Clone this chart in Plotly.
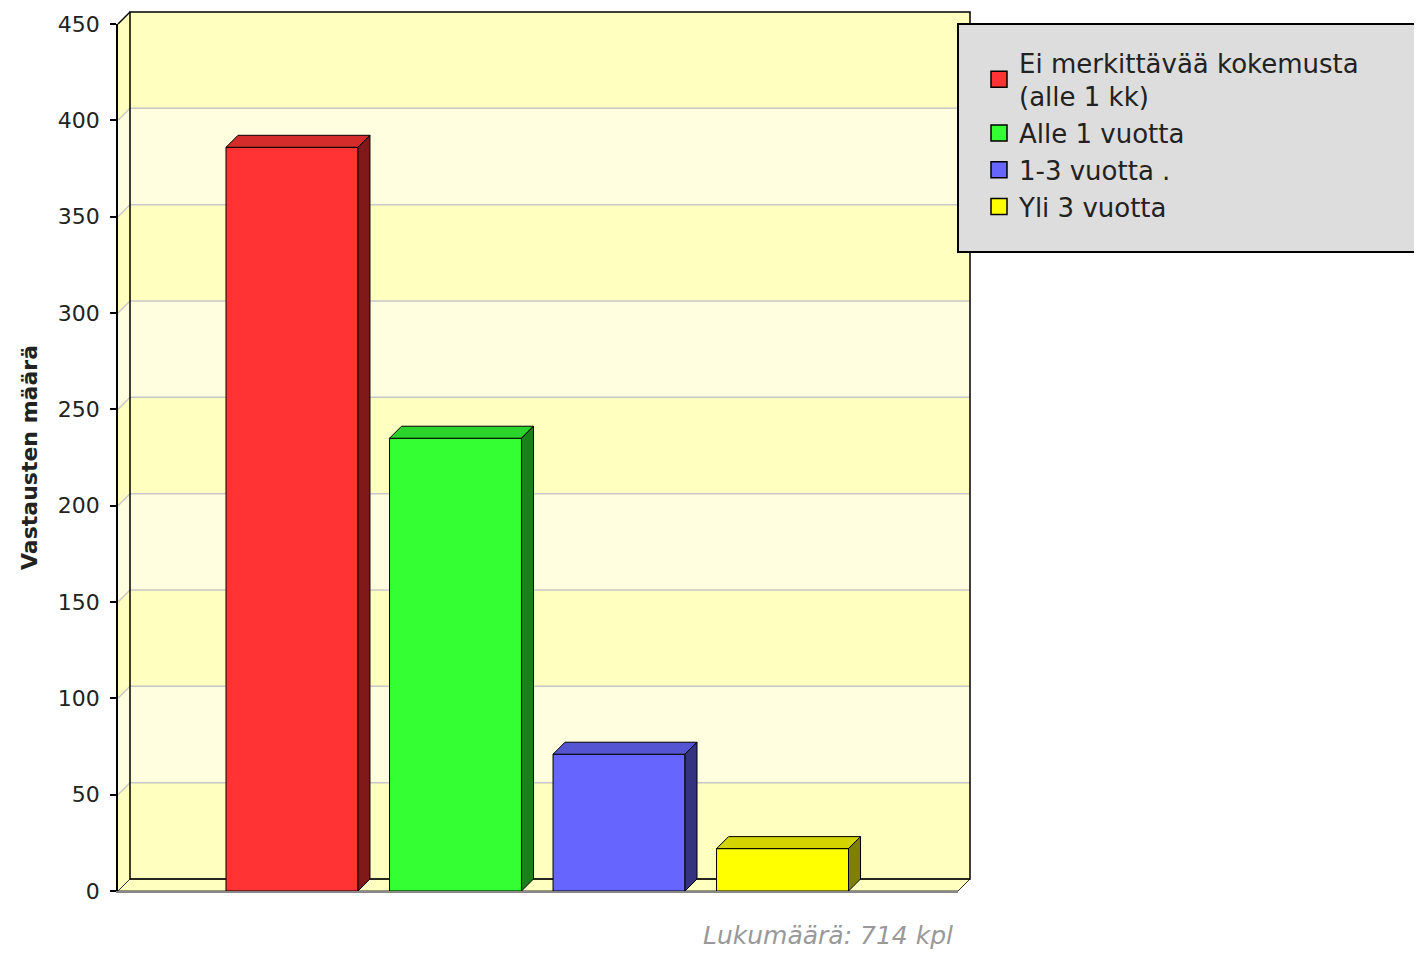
import plotly.graph_objects as go

# data
categories = ["Ei merkittävää kokemusta<br>(alle 1 kk)", "Alle 1 vuotta", "1-3 vuotta .", "Yli 3 vuotta"]
values = [386, 235, 71, 22]
front_colors = ["#FF3333", "#33FF33", "#6666FF", "#FFFF00"]
top_colors = ["#D42B2B", "#2BD42B", "#5555D4", "#D4D400"]
side_colors = ["#801A1A", "#1A801A", "#333380", "#808000"]
y_ticks = [0, 50, 100, 150, 200, 250, 300, 350, 400, 450]
total_label = "Lukumäärä: 714 kpl"

# layout geometry in page pixels; the page body adds an 8px margin,
# so the figure is sized to fit the 1422x958 window without overflow
PAGE_OFF = 8
W, H = 1422 - 2 * PAGE_OFF, 958 - 2 * PAGE_OFF
PLOT_LEFT, PLOT_RIGHT, PLOT_TOP, PLOT_BOTTOM = 118, 958, 24, 891
PLOT_W, PLOT_H = PLOT_RIGHT - PLOT_LEFT, PLOT_BOTTOM - PLOT_TOP
L = PLOT_LEFT - PAGE_OFF
T = PLOT_TOP - PAGE_OFF
R = W - L - PLOT_W
B = H - T - PLOT_H
DEPTH = 12  # fake 3d depth in px
X_RANGE = [-1.064, 4.073]
Y_MAX = 450
BAR_W = 0.807

BAND_DARK = "#FFFFC0"
BAND_LIGHT = "#FFFFE0"
GRID = "#C8C8C8"


def px_x(x):
    return (x - PLOT_LEFT) / PLOT_W


def px_y(y):
    return (PLOT_BOTTOM - y) / PLOT_H


# depth offsets in data units and in paper units
dx = DEPTH * (X_RANGE[1] - X_RANGE[0]) / PLOT_W
dy = DEPTH * Y_MAX / PLOT_H
ox = DEPTH / PLOT_W
oy = DEPTH / PLOT_H

fig = go.Figure()

for i, (name, v) in enumerate(zip(categories, values)):
    x0, x1 = i - BAR_W / 2, i + BAR_W / 2
    fig.add_trace(go.Bar(
        x=[i], y=[v], width=BAR_W, name=name, showlegend=False,
        marker=dict(color=front_colors[i], line=dict(color="black", width=1)),
        hovertemplate=f"{name}: %{{y}}<extra></extra>",
    ))
    # top face
    fig.add_trace(go.Scatter(
        x=[x0, x0 + dx, x1 + dx, x1, x0], y=[v, v + dy, v + dy, v, v],
        mode="lines", fill="toself", fillcolor=top_colors[i],
        line=dict(color="black", width=1), showlegend=False, hoverinfo="skip",
    ))
    # side face
    fig.add_trace(go.Scatter(
        x=[x1, x1 + dx, x1 + dx, x1, x1], y=[0, dy, v + dy, v, 0],
        mode="lines", fill="toself", fillcolor=side_colors[i],
        line=dict(color="black", width=1), showlegend=False, hoverinfo="skip",
    ))

# legend entries with bigger square swatches
for i, name in enumerate(categories):
    fig.add_trace(go.Scatter(
        x=[None], y=[None], mode="markers", name=name,
        marker=dict(symbol="square", size=16, color=front_colors[i],
                    line=dict(color="black", width=1.5)),
    ))

shapes = []
n_bands = len(y_ticks) - 1
for k in range(n_bands):
    y0 = y_ticks[k] / Y_MAX
    y1 = y_ticks[k + 1] / Y_MAX
    col = BAND_DARK if k % 2 == 0 else BAND_LIGHT
    # back wall band
    shapes.append(dict(type="rect", xref="paper", yref="paper", layer="below",
                       x0=ox, x1=1 + ox, y0=y0 + oy, y1=y1 + oy,
                       fillcolor=col, line=dict(width=0)))
    # left wall band
    shapes.append(dict(type="path", xref="paper", yref="paper", layer="below",
                       path=f"M 0,{y0} L {ox},{y0 + oy} L {ox},{y1 + oy} L 0,{y1} Z",
                       fillcolor=col, line=dict(width=0)))

# floor
shapes.append(dict(type="path", xref="paper", yref="paper", layer="below",
                   path=f"M 0,0 L 1,0 L {1 + ox},{oy} L {ox},{oy} Z",
                   fillcolor=BAND_DARK, line=dict(color="#333", width=1)))

# gridlines on back wall + left wall
for t in y_ticks[1:-1]:
    yy = t / Y_MAX
    shapes.append(dict(type="line", xref="paper", yref="paper", layer="below",
                       x0=ox, x1=1 + ox, y0=yy + oy, y1=yy + oy,
                       line=dict(color=GRID, width=1.5)))
    shapes.append(dict(type="line", xref="paper", yref="paper", layer="below",
                       x0=0, x1=ox, y0=yy, y1=yy + oy,
                       line=dict(color=GRID, width=1.5)))

# back wall outline and left wall top edge
shapes.append(dict(type="rect", xref="paper", yref="paper", layer="below",
                   x0=ox, x1=1 + ox, y0=oy, y1=1 + oy,
                   line=dict(color="black", width=1.5)))
shapes.append(dict(type="line", xref="paper", yref="paper", layer="below",
                   x0=0, x1=ox, y0=1, y1=1 + oy, line=dict(color="black", width=1.5)))

# legend box (runs off the right edge like the reference)
shapes.append(dict(type="rect", xref="paper", yref="paper", layer="below",
                   x0=px_x(958), x1=px_x(1460), y0=px_y(252), y1=px_y(24),
                   fillcolor="#DDDDDD", line=dict(color="black", width=2)))

fig.update_layout(
    width=W, height=H, autosize=False,
    margin=dict(l=L, r=R, t=T, b=B),
    paper_bgcolor="white",
    plot_bgcolor="rgba(0,0,0,0)",
    barmode="overlay",
    shapes=shapes,
    showlegend=True,
    legend=dict(
        x=px_x(979), y=px_y(39), xanchor="left", yanchor="top",
        bgcolor="rgba(0,0,0,0)", borderwidth=0,
        font=dict(family="DejaVu Sans", size=26, color="#222"),
        tracegroupgap=0,
    ),
    xaxis=dict(range=X_RANGE, showgrid=False, zeroline=False, showticklabels=False,
               ticks="", showline=True, linecolor="#888", linewidth=2,
               fixedrange=True, automargin=False),
    yaxis=dict(
        range=[0, Y_MAX], tickvals=y_ticks, showgrid=False, zeroline=False,
        ticks="outside", ticklen=6, tickcolor="black", tickwidth=1.5,
        showline=True, linecolor="black", linewidth=1.5, automargin=False,
        tickfont=dict(family="DejaVu Sans", size=22, color="#222"),
        ticklabelstandoff=6,
        title=dict(text="<b>Vastausten määrä</b>", standoff=14,
                   font=dict(family="DejaVu Sans", size=22, color="#222")),
    ),
    annotations=[dict(
        text=f"<i>{total_label}</i>", xref="paper", yref="paper",
        x=px_x(955), y=px_y(935),
        xanchor="right", yanchor="middle", showarrow=False,
        font=dict(family="DejaVu Sans", size=25, color="#999"),
    )],
)

fig.write_html("out.html")
